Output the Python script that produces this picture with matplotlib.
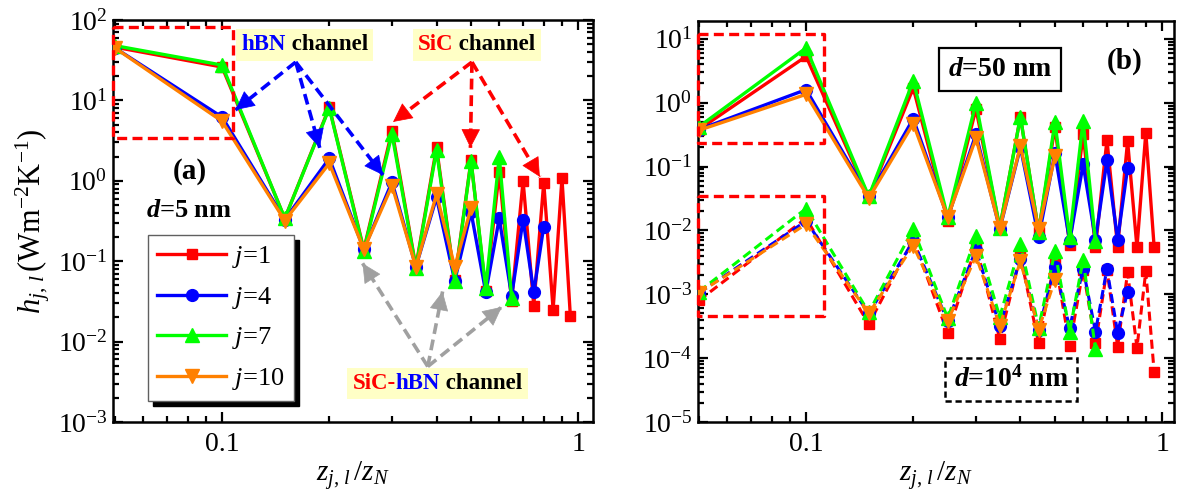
import numpy as np
import matplotlib
matplotlib.use('Agg')
import matplotlib.pyplot as plt
from matplotlib.ticker import FixedLocator, LogLocator, NullFormatter, FixedFormatter
from matplotlib.offsetbox import TextArea, HPacker, AnnotationBbox

plt.rcParams.update({
    'font.family': ['Liberation Serif', 'DejaVu Serif'],
    'mathtext.fontset': 'custom',
    'mathtext.rm': 'Liberation Serif',
    'mathtext.it': 'Liberation Serif:italic',
    'mathtext.bf': 'Liberation Serif:bold',
    'mathtext.bfit': 'Liberation Serif:italic:bold',
})

# ---------------- data ----------------
z = [0.05, 0.10, 0.15, 0.20, 0.25, 0.30, 0.35, 0.40, 0.45, 0.50,
     0.55, 0.60, 0.65, 0.70, 0.75, 0.80, 0.85, 0.90, 0.95]
labels = ['1', '4', '7', '10']

# panel (a): d = 5 nm
a_j1 = [46, 26, 0.34, 8.2, 0.14, 4.2, 0.085, 2.6, 0.058, 1.8,
        0.042, 1.28, 0.032, 1.0, 0.028, 0.95, 0.025, 1.08, 0.021]
a_j4 = [45, 6.2, 0.33, 1.9, 0.14, 0.97, 0.085, 0.62, 0.057, 0.41,
        0.041, 0.34, 0.037, 0.33, 0.041, 0.27]
a_j7 = [48, 27.5, 0.34, 8.0, 0.135, 3.8, 0.082, 2.4, 0.056, 1.75,
        0.046, 2.0, 0.035]
a_j10 = [45, 5.5, 0.32, 1.65, 0.14, 0.87, 0.085, 0.68, 0.085, 0.46]

# panel (b): d = 50 nm (solid)
b50_j1 = [0.38, 5.3, 0.033, 1.7, 0.014, 0.8, 0.011, 0.6, 0.0095, 0.42,
          0.006, 0.32, 0.0055, 0.26, 0.0055, 0.25, 0.0054, 0.34, 0.0054]
b50_j4 = [0.38, 1.6, 0.034, 0.56, 0.016, 0.32, 0.0105, 0.2, 0.0078, 0.16,
          0.0068, 0.108, 0.0072, 0.125, 0.0072, 0.095]
b50_j7 = [0.42, 7.2, 0.034, 2.2, 0.016, 1.0, 0.011, 0.6, 0.0095, 0.5,
          0.0078, 0.52, 0.0068]
b50_j10 = [0.37, 1.35, 0.032, 0.47, 0.016, 0.28, 0.0108, 0.21, 0.0105, 0.145]

# panel (b): d = 1e4 nm (dashed)
b4_j1 = [0.00080, 0.0155, 0.00034, 0.0072, 0.000245, 0.0056, 0.0002, 0.0040,
         0.00017, 0.0035, 0.000156, 0.0024, 0.000170, 0.0024, 0.000152, 0.0022,
         0.000145, 0.0023, 0.00006]
b4_j4 = [0.00105, 0.014, 0.0005, 0.0068, 0.00038, 0.0050, 0.00032, 0.0036,
         0.00028, 0.0027, 0.0003, 0.0025, 0.00026, 0.0025, 0.00025, 0.0011]
b4_j7 = [0.0011, 0.022, 0.00052, 0.0105, 0.00042, 0.0081, 0.00044, 0.0061,
         0.0003, 0.0047, 0.00026, 0.0035, 0.000137]
b4_j10 = [0.00105, 0.0125, 0.0005, 0.0058, 0.00038, 0.0040, 0.00032, 0.0033,
          0.00028, 0.0017]

# ---------------- styles ----------------
colors = ['#FF0000', '#0000FF', '#00FF00', '#FF8000']
markers = ['s', 'o', '^', 'v']
msizes = [7.5, 8.5, 10, 10]

fig = plt.figure(figsize=(11.79, 4.92), dpi=100)
axa = fig.add_axes([113/1179, 70/492, 480/1179, 402/492])
axb = fig.add_axes([698/1179, 70/492, 476/1179, 401/492])


def setup(ax, xlim, ylim):
    ax.set_xscale('log')
    ax.set_yscale('log')
    ax.set_xlim(*xlim)
    ax.set_ylim(*ylim)
    ax.xaxis.set_major_locator(FixedLocator([0.1, 1]))
    ax.xaxis.set_major_formatter(FixedFormatter(['0.1', '1']))
    ax.xaxis.set_minor_locator(FixedLocator([0.05, 0.06, 0.07, 0.08, 0.09,
                                             0.2, 0.3, 0.4, 0.5, 0.6, 0.7, 0.8, 0.9]))
    ax.xaxis.set_minor_formatter(NullFormatter())
    ax.yaxis.set_major_locator(LogLocator(base=10, numticks=20))
    ax.yaxis.set_minor_locator(LogLocator(base=10, subs=np.arange(2, 10), numticks=20))
    ax.yaxis.set_minor_formatter(NullFormatter())
    ax.tick_params(which='both', direction='in', top=True, right=True, width=1.6,
                   labelsize=20)
    ax.tick_params(which='major', length=7)
    ax.tick_params(which='minor', length=4)
    ax.tick_params(axis='x', pad=7)
    ax.tick_params(axis='y', pad=4)
    for s in ax.spines.values():
        s.set_linewidth(1.8)
    ax.set_xlabel(r'$z_{j,\,l}\,/z_N$', fontsize=21, labelpad=2)


def arrow(ax, start, end, color, dashes=(3, 1.6)):
    ax.plot([start[0], end[0]], [start[1], end[1]], color=color, lw=2.6,
            dashes=dashes, zorder=6)
    lx0, ly0 = np.log10(start)
    lx1, ly1 = np.log10(end)
    f = 0.97
    mid = (10**(lx0 + f*(lx1-lx0)), 10**(ly0 + f*(ly1-ly0)))
    ax.annotate('', xy=end, xytext=mid,
                arrowprops=dict(arrowstyle='-|>,head_length=0.9,head_width=0.45',
                                color=color, lw=0.5, shrinkA=0, shrinkB=0,
                                mutation_scale=14), zorder=7)


def colored_box(ax, parts, xy, size=16.5, face='#FFFFC6'):
    areas = [TextArea(t, textprops=dict(color=c, fontweight='bold', fontsize=size))
             for t, c in parts]
    pack = HPacker(children=areas, align='baseline', pad=0, sep=0)
    ab = AnnotationBbox(pack, xy, xycoords='axes fraction', frameon=True,
                        box_alignment=(0.5, 0.5), pad=0.38,
                        bboxprops=dict(facecolor=face, edgecolor='none',
                                       boxstyle='square,pad=0.38'))
    ab.set_zorder(8)
    ax.add_artist(ab)


# ---------------- panel (a) ----------------
setup(axa, (0.0494, 1.10), (1e-3, 1e2))
series_a = [a_j1, a_j4, a_j7, a_j10]
for k, ys in enumerate(series_a):
    axa.plot(z[:len(ys)], ys, color=colors[k], marker=markers[k], ms=msizes[k],
             lw=2.4, label=r'$\mathit{j}$=' + labels[k], zorder=3 + k*0.1)
axa.set_ylabel(r'$h_{j,\,l}\,(\mathrm{Wm^{-2}K^{-1}})$', fontsize=22, labelpad=4)

# red dashed box
rx = [0.0494, 0.107, 0.107, 0.0494, 0.0494]
ry = [82, 82, 3.4, 3.4, 82]
axa.plot(rx, ry, color='#FF0000', lw=2.4, dashes=(3, 1.6), zorder=9, clip_on=False)

# arrows
for e in [(0.109, 7.6), (0.188, 2.57), (0.283, 1.18)]:
    arrow(axa, (0.161, 30), e, '#0000FF')
for e in [(0.302, 5.4), (0.498, 2.57), (0.78, 1.12)]:
    arrow(axa, (0.503, 30), e, '#FF0000')
for e in [(0.248, 0.094), (0.416, 0.042), (0.61, 0.027)]:
    arrow(axa, (0.378, 0.0049), e, '#A0A0A0')

colored_box(axa, [('hBN', '#0000FF'), (' channel', 'black')], (0.399, 0.938))
colored_box(axa, [('SiC', '#FF0000'), (' channel', 'black')], (0.758, 0.938))
colored_box(axa, [('SiC-', '#FF0000'), ('hBN', '#0000FF'), (' channel', 'black')],
            (0.676, 0.096))

axa.text(0.16, 0.622, '(a)', transform=axa.transAxes, fontsize=21,
         fontweight='bold', ha='center', va='center')
axa.text(0.158, 0.527, r'$\mathbfit{d}$=5 nm', transform=axa.transAxes,
         fontsize=19, fontweight='bold', ha='center', va='center')

leg = axa.legend(loc='upper left', bbox_to_anchor=(0.073, 0.465), borderaxespad=0,
                 fontsize=19, fancybox=False, edgecolor='#606060', framealpha=1,
                 handlelength=2.6, handletextpad=0.25, labelspacing=0.55,
                 borderpad=0.35,
                 shadow={'ox': 3.6, 'oy': -3.6, 'color': 'black', 'alpha': 1})
leg.get_frame().set_linewidth(1.0)

# ---------------- panel (b) ----------------
setup(axb, (0.0497, 1.08), (1e-5, 19))
series_b50 = [b50_j1, b50_j4, b50_j7, b50_j10]
series_b4 = [b4_j1, b4_j4, b4_j7, b4_j10]
for k, ys in enumerate(series_b50):
    axb.plot(z[:len(ys)], ys, color=colors[k], marker=markers[k], ms=msizes[k],
             lw=2.4, zorder=3 + k*0.1)
for k, ys in enumerate(series_b4):
    axb.plot(z[:len(ys)], ys, color=colors[k], marker=markers[k], ms=msizes[k],
             lw=2.2, dashes=(3, 1.6), zorder=3 + k*0.1)

bx = [0.0497, 0.112, 0.112, 0.0497, 0.0497]
axb.plot(bx, [11.8, 11.8, 0.23, 0.23, 11.8], color='#FF0000', lw=2.4,
         dashes=(3, 1.6), zorder=9, clip_on=False)
axb.plot(bx, [0.0345, 0.0345, 0.00045, 0.00045, 0.0345], color='#FF0000', lw=2.4,
         dashes=(3, 1.6), zorder=9, clip_on=False)

axb.text(0.634, 0.880, r'$\mathbfit{d}$=50 nm', transform=axb.transAxes,
         fontsize=20, fontweight='bold', ha='center', va='center', zorder=8,
         bbox=dict(boxstyle='square,pad=0.32', facecolor='white', edgecolor='black',
                   linewidth=1.6))
axb.text(0.658, 0.107, r'$\mathbfit{d}$=$\mathbf{10^{4}}$ nm', transform=axb.transAxes,
         fontsize=20, fontweight='bold', ha='center', va='center', zorder=8,
         bbox=dict(boxstyle='square,pad=0.3', facecolor='white', edgecolor='black',
                   linewidth=1.8, linestyle=(0, (2.5, 1.5))))
axb.text(0.897, 0.90, '(b)', transform=axb.transAxes, fontsize=21,
         fontweight='bold', ha='center', va='center')

fig.savefig('out.png', dpi=100)
